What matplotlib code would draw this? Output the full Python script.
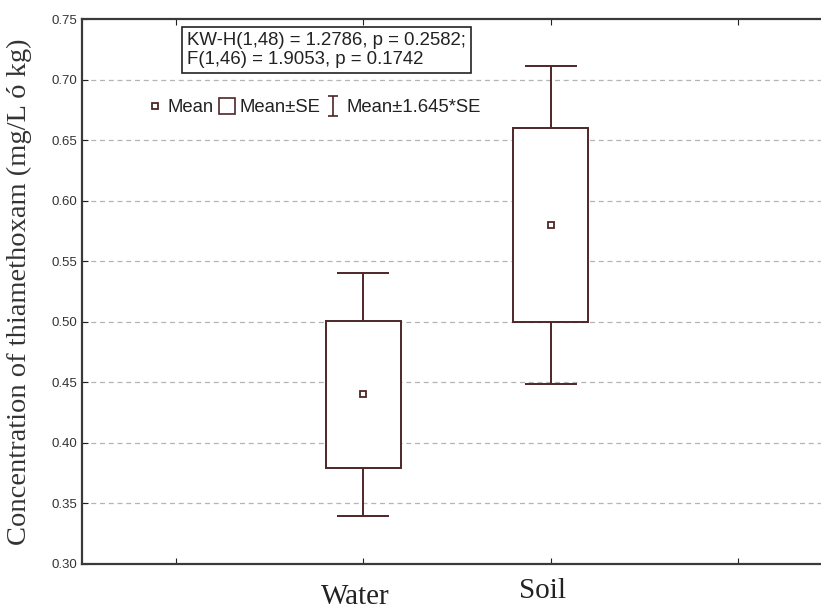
import matplotlib
matplotlib.use("Agg")
import matplotlib.pyplot as plt
import matplotlib.transforms as mtransforms
from matplotlib.lines import Line2D
from matplotlib.path import Path

# data
categories = ["Water", "Soil"]
means = [0.44, 0.58]
se = [0.061, 0.080]
se_factor = 1.645
stats_text = "KW-H(1,48) = 1.2786, p = 0.2582;\nF(1,46) = 1.9053, p = 0.1742"
yticks = [0.30, 0.35, 0.40, 0.45, 0.50, 0.55, 0.60, 0.65, 0.70, 0.75]

col = "#4e2628"
sans = ["Liberation Sans", "DejaVu Sans"]
serif = ["Liberation Serif", "DejaVu Serif"]

fig = plt.figure(figsize=(8.21, 6.10), dpi=100)
ax = fig.add_axes([82 / 821, 46 / 610, 750 / 821, 545 / 610])

pos = [i + 1.5 for i in range(len(categories))]
lo = [m - s for m, s in zip(means, se)]
hi2 = [2 * s for s in se]
wsk = [se_factor * s for s in se]

# whiskers behind, box on top with white face
ax.errorbar(pos, means, yerr=wsk, fmt="none", ecolor=col, elinewidth=1.4,
            capsize=19, capthick=1.4, zorder=2)
ax.bar(pos, hi2, bottom=lo, width=0.4, facecolor="white", edgecolor=col,
       linewidth=1.4, zorder=3)
ax.plot(pos, means, ls="none", marker="s", ms=5, mfc="white", mec=col,
        mew=1.3, zorder=4)

ax.set_xlim(0, 4)
ax.set_ylim(0.30, 0.75)
ax.set_yticks(yticks)
ax.set_yticklabels([f"{v:.2f}" for v in yticks], fontsize=9.5, family=sans,
                   color="#333333")
ax.set_xticks([0.5, 1.5, 2.5, 3.5])
ax.set_xticklabels([""] + categories + [""], fontsize=21, family=serif,
                   color="#222222")
ax.tick_params(axis="both", direction="in", length=4, color="#222222",
               top=True, right=False)
ax.tick_params(axis="x", pad=10)
# the pasted category labels sit a bit left of the ticks
shifts = [(0, 0), (-8, -6), (-8, 0), (0, 0)]
for lab, (dx, dy) in zip(ax.get_xticklabels(), shifts):
    lab.set_transform(lab.get_transform() +
                      mtransforms.ScaledTranslation(dx / 100, dy / 100, fig.dpi_scale_trans))

for v in yticks[1:-1]:
    ax.axhline(v, color="#b5b5b5", lw=0.9, ls=(0, (4, 3)), zorder=1)

for sp in ax.spines.values():
    sp.set_color("#3a3a3a")
    sp.set_linewidth(1.6)

ax.set_ylabel("Concentration of thiamethoxam (mg/L ó kg)", family=serif,
              fontsize=20.5, color="#333333")
ax.yaxis.set_label_coords(-0.066, 0.5)

# statistics box
ax.text(0.14, 0.976, stats_text, transform=ax.transAxes, ha="left", va="top",
        fontsize=13.4, family=sans, color="#222222", linespacing=1.15,
        bbox=dict(boxstyle="square,pad=0.25", fc="white", ec="#222222", lw=1.2))

# legend, with an I-shaped marker for the whisker entry
ibar = Path([(-0.5, 1), (0.5, 1), (0, 1), (0, -1), (-0.5, -1), (0.5, -1)],
            [Path.MOVETO, Path.LINETO, Path.MOVETO, Path.LINETO,
             Path.MOVETO, Path.LINETO])
h_mean = Line2D([], [], ls="none", marker="s", ms=5, mfc="white", mec=col, mew=1.3)
h_box = Line2D([], [], ls="none", marker="s", ms=11, mfc="white", mec=col, mew=1.2)
h_bar = Line2D([], [], ls="none", marker=ibar, ms=15, mfc="none", mec=col, mew=1.2)
leg = ax.legend([h_mean, h_box, h_bar], ["Mean", "Mean±SE", "Mean±1.645*SE"],
                loc="center left", bbox_to_anchor=(0.077, 0.837), ncol=3,
                frameon=False, handlelength=0.8, handletextpad=0.3,
                columnspacing=0.3, prop={"family": sans, "size": 13.3},
                borderaxespad=0)
for t in leg.get_texts():
    t.set_color("#222222")

fig.savefig("out.png", dpi=100)
